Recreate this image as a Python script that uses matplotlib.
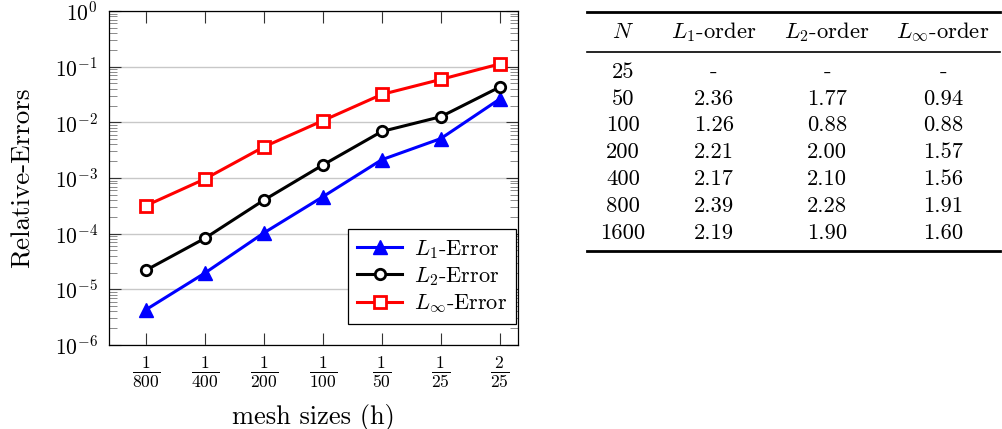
import matplotlib
matplotlib.use("Agg")
import matplotlib.pyplot as plt
from matplotlib.ticker import FixedLocator, FixedFormatter, NullLocator, LogLocator
from matplotlib.lines import Line2D

plt.rcParams["font.family"] = ["cmr10", "DejaVu Serif"]
plt.rcParams["mathtext.fontset"] = "cm"
plt.rcParams["axes.formatter.use_mathtext"] = True

# mesh sizes and relative errors
h = [1/800, 1/400, 1/200, 1/100, 1/50, 1/25, 2/25]
h_labels = [r"$\frac{1}{800}$", r"$\frac{1}{400}$", r"$\frac{1}{200}$",
            r"$\frac{1}{100}$", r"$\frac{1}{50}$", r"$\frac{1}{25}$",
            r"$\frac{2}{25}$"]
err_L1 = [4.3e-6, 1.96e-5, 1.03e-4, 4.6e-4, 2.13e-3, 5.1e-3, 2.62e-2]
err_L2 = [2.2e-5, 8.25e-5, 4.0e-4, 1.71e-3, 6.85e-3, 1.26e-2, 4.3e-2]
err_Linf = [3.18e-4, 9.6e-4, 3.62e-3, 1.07e-2, 3.17e-2, 5.9e-2, 1.12e-1]

# convergence orders
N_values = ["25", "50", "100", "200", "400", "800", "1600"]
order_L1 = ["-", "2.36", "1.26", "2.21", "2.17", "2.39", "2.19"]
order_L2 = ["-", "1.77", "0.88", "2.00", "2.10", "2.28", "1.90"]
order_Linf = ["-", "0.94", "0.88", "1.57", "1.56", "1.91", "1.60"]
table_header = [r"$N$", r"$L_1$-order", r"$L_2$-order", r"$L_\infty$-order"]

W, H = 1002, 429
fig = plt.figure(figsize=(W / 100, H / 100), dpi=100)

def fx(px):
    return px / W

def fy(px):
    return 1 - px / H

# ---- error plot ----
ax = fig.add_axes([fx(109), fy(345), fx(518) - fx(109), fy(11) - fy(345)])
ax.set_xscale("log", base=2)
ax.set_yscale("log")

ax.plot(h, err_L1, color="blue", lw=2.2, marker="^", ms=9.5,
        mfc="blue", mec="blue", mew=1, label=r"$L_1$-Error", zorder=3)
ax.plot(h, err_L2, color="black", lw=2.2, marker="o", ms=7.5,
        mfc="white", mec="black", mew=2, label=r"$L_2$-Error", zorder=3)
ax.plot(h, err_Linf, color="red", lw=2.2, marker="s", ms=8,
        mfc="white", mec="red", mew=2, label=r"$L_\infty$-Error", zorder=3)

ax.set_xlim(h[0] * 2 ** -0.625, h[-1] * 2 ** 0.31)
ax.set_ylim(1e-6, 1)

ax.xaxis.set_major_locator(FixedLocator(h))
ax.xaxis.set_major_formatter(FixedFormatter(h_labels))
ax.xaxis.set_minor_locator(NullLocator())
ax.yaxis.set_major_locator(LogLocator(base=10, numticks=10))
ax.yaxis.set_minor_locator(LogLocator(base=10, subs=range(2, 10), numticks=20))

ax.tick_params(axis="both", which="major", direction="in", length=8.5,
               width=0.8, color="#333333", top=True, right=True)
ax.tick_params(axis="y", which="minor", direction="in", length=5.5,
               width=0.6, color="#777777", left=True, right=True)
ax.tick_params(axis="y", which="major", labelsize=15.5, pad=8)
ax.tick_params(axis="x", which="major", labelsize=18, pad=7)

ax.grid(axis="y", which="major", color="#c8c8c8", lw=1.0)
ax.set_axisbelow(True)
for sp in ax.spines.values():
    sp.set_linewidth(0.9)
    sp.set_color("black")

ax.set_xlabel("mesh sizes (h)", fontsize=19, labelpad=10)
ax.set_ylabel("Relative-Errors", fontsize=19.5)
ax.yaxis.set_label_coords(-0.183, 0.5)

leg = ax.legend(loc="lower right", bbox_to_anchor=(1 - 2 / 409, 21 / 334),
                borderaxespad=0, fontsize=16, frameon=True, fancybox=False,
                edgecolor="black", framealpha=1, handlelength=2.0,
                labelspacing=0.2, borderpad=0.4, handletextpad=0.55)
leg.get_frame().set_linewidth(0.9)

# ---- order table ----
col_x = [623, 714, 827, 943]
header_y = 32
row_y0, row_dy = 72, 26.85
rule_left, rule_right = 587, 1000

for x, txt in zip(col_x, table_header):
    fig.text(fx(x), fy(header_y), txt, ha="center", va="center", fontsize=16.3)

columns = [N_values, order_L1, order_L2, order_Linf]
for i in range(len(N_values)):
    y = row_y0 + i * row_dy
    for x, col in zip(col_x, columns):
        fig.text(fx(x), fy(y), col[i], ha="center", va="center", fontsize=16.3)

for y, lw in [(12, 2.0), (52, 1.2), (251, 2.0)]:
    fig.add_artist(Line2D([fx(rule_left), fx(rule_right)], [fy(y), fy(y)],
                          color="black", lw=lw, transform=fig.transFigure))

fig.savefig("out.png", dpi=100)
